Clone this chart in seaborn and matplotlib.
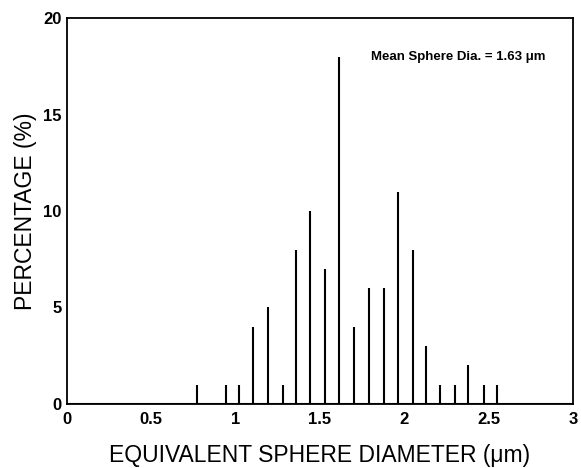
import matplotlib
matplotlib.use("Agg")
import matplotlib.pyplot as plt
import seaborn as sns
import pandas as pd

diameters = [0.77, 0.94, 1.02, 1.10, 1.19, 1.28, 1.36, 1.44, 1.53, 1.61, 1.70,
             1.79, 1.88, 1.96, 2.05, 2.13, 2.21, 2.30, 2.38, 2.47, 2.55]
percentages = [1, 1, 1, 4, 5, 1, 8, 10, 7, 18, 4, 6, 6, 11, 8, 3, 1, 1, 2, 1, 1]
x_ticks = [0, 0.5, 1, 1.5, 2, 2.5, 3]
x_tick_labels = ["0", "0.5", "1", "1.5", "2", "2.5", "3"]
y_ticks = [0, 5, 10, 15, 20]
annotation = "Mean Sphere Dia. = 1.63 μm"

df = pd.DataFrame({"d": diameters, "p": percentages})

sns.set_style("white")
plt.rcParams["font.family"] = ["Liberation Sans", "DejaVu Sans"]
plt.rcParams["text.color"] = "black"
plt.rcParams["axes.labelcolor"] = "black"

fig = plt.figure(figsize=(5.81, 4.68), dpi=100)
ax = fig.add_axes([0.1153, 0.1368, 0.8709, 0.8247])

ax.vlines(df["d"], 0, df["p"], color="black", linewidth=1.5)
sns.lineplot(x=[0, 3], y=[0, 0], ax=ax, color="black", linewidth=1.5)

ax.set_xlim(0, 3)
ax.set_ylim(0, 20)
ax.set_xticks(x_ticks)
ax.set_xticklabels(x_tick_labels)
ax.set_yticks(y_ticks)
ax.tick_params(axis="both", length=0, labelsize=12, colors="black")
ax.tick_params(axis="x", pad=6)
ax.tick_params(axis="y", pad=4)
for lab in ax.get_xticklabels() + ax.get_yticklabels():
    lab.set_fontweight("bold")

for s in ax.spines.values():
    s.set_visible(True)
    s.set_color("black")
    s.set_linewidth(1.3)

ax.set_xlabel("EQUIVALENT SPHERE DIAMETER (μm)", fontsize=16.5, labelpad=12, color="black")
ax.set_ylabel("PERCENTAGE (%)", fontsize=16.5, labelpad=4, color="black")
ax.text(2.84, 18.0, annotation, fontsize=9.5, fontweight="bold", ha="right", va="center", color="black")

fig.savefig("out.png", dpi=100)
